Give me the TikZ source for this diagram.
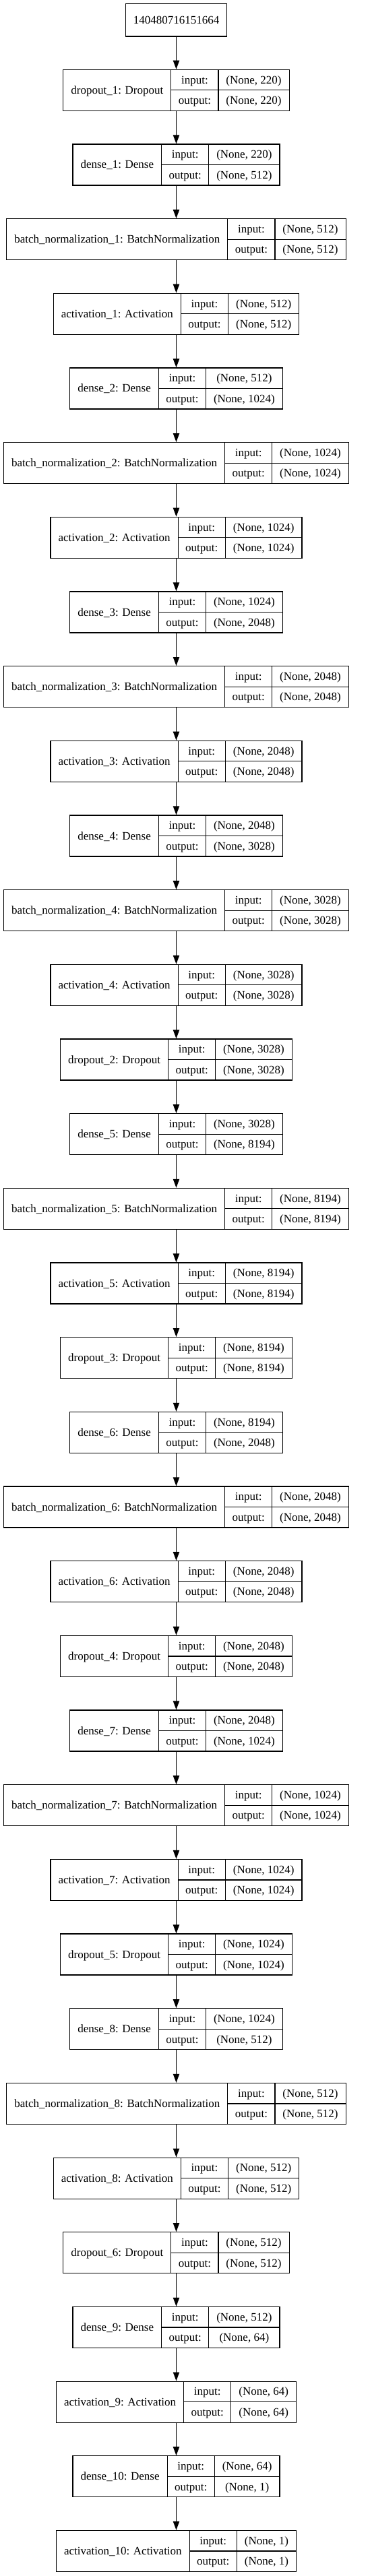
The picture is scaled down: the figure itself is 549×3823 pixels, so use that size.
\documentclass[tikz,border=0pt]{standalone}
\usepackage{fontspec}
\setmainfont{Liberation Serif}
\usetikzlibrary{arrows.meta}
\newlength\LayA \newlength\LayB \newlength\LayC \newlength\LayD
\newcommand\layfont{\fontsize{17bp}{20bp}\selectfont}
\makeatletter
\newcommand\measfont{\fontsize{17bp}{20bp}\pgf@selectfontorig}
\makeatother
\tikzset{
  laybox/.style={draw, rectangle, line width=1.2bp, minimum height=61bp, inner sep=0pt},
  topbox/.style={draw, rectangle, line width=1.2bp, minimum height=48.3bp, minimum width=150.3bp, inner sep=0pt, font=\layfont, text height=11bp, text depth=0pt},
  laytext/.style={font=\layfont, inner sep=0pt, text height=11bp, text depth=0pt},
  divider/.style={line width=1.2bp},
  conn/.style={line width=1.2bp, -{Triangle[length=13bp,width=9.3bp]}}
}
\newcommand\layer[5]{%
  \pgfmathsetmacro\Yc{103.3+110.67*#2+30.5}%
  \settowidth\LayA{\measfont #3}\addtolength\LayA{23bp}%
  \settowidth\LayB{\measfont output:}\addtolength\LayB{22bp}%
  \settowidth\LayC{\measfont #4}\settowidth\LayD{\measfont #5}%
  \ifdim\LayD>\LayC \LayC=\LayD\fi \addtolength\LayC{23bp}%
  \pgfmathsetmacro\Wd{(\LayA+\LayB+\LayC)/1.00375}%
  \pgfmathsetmacro\Xl{261.5-\Wd/2}%
  \pgfmathsetmacro\Xa{\Xl+\LayA/1.00375}%
  \pgfmathsetmacro\Xb{\Xa+\LayB/1.00375}%
  \pgfmathsetmacro\Xr{\Xl+\Wd}%
  \node[laybox, minimum width=\Wd bp] (#1) at (261.5,\Yc) {};
  \draw[divider] (\Xa,\Yc-30.5) -- (\Xa,\Yc+30.5);
  \draw[divider] (\Xb,\Yc-30.5) -- (\Xb,\Yc+30.5);
  \draw[divider] (\Xa,\Yc) -- (\Xr,\Yc);
  \node[laytext] (#1-lbl) at ({(\Xl+\Xa)/2},\Yc) {#3};
  \node[laytext] (#1-ik) at ({(\Xa+\Xb)/2},\Yc-15.25) {input:};
  \node[laytext] (#1-ok) at ({(\Xa+\Xb)/2},\Yc+15.25) {output:};
  \node[laytext] (#1-iv) at ({(\Xb+\Xr)/2},\Yc-15.25) {#4};
  \node[laytext] (#1-ov) at ({(\Xb+\Xr)/2},\Yc+15.25) {#5};
}
\begin{document}
\begin{tikzpicture}[x=1bp,y=-1bp]
\useasboundingbox[fill=white] (0,0) rectangle (549,3823);
\node[topbox] (top) at (261.5,29.85) {140480716151664};
\layer{L0}{0}{dropout\_1: Dropout}{(None, 220)}{(None, 220)}
\layer{L1}{1}{dense\_1: Dense}{(None, 220)}{(None, 512)}
\layer{L2}{2}{batch\_normalization\_1: BatchNormalization}{(None, 512)}{(None, 512)}
\layer{L3}{3}{activation\_1: Activation}{(None, 512)}{(None, 512)}
\layer{L4}{4}{dense\_2: Dense}{(None, 512)}{(None, 1024)}
\layer{L5}{5}{batch\_normalization\_2: BatchNormalization}{(None, 1024)}{(None, 1024)}
\layer{L6}{6}{activation\_2: Activation}{(None, 1024)}{(None, 1024)}
\layer{L7}{7}{dense\_3: Dense}{(None, 1024)}{(None, 2048)}
\layer{L8}{8}{batch\_normalization\_3: BatchNormalization}{(None, 2048)}{(None, 2048)}
\layer{L9}{9}{activation\_3: Activation}{(None, 2048)}{(None, 2048)}
\layer{L10}{10}{dense\_4: Dense}{(None, 2048)}{(None, 3028)}
\layer{L11}{11}{batch\_normalization\_4: BatchNormalization}{(None, 3028)}{(None, 3028)}
\layer{L12}{12}{activation\_4: Activation}{(None, 3028)}{(None, 3028)}
\layer{L13}{13}{dropout\_2: Dropout}{(None, 3028)}{(None, 3028)}
\layer{L14}{14}{dense\_5: Dense}{(None, 3028)}{(None, 8194)}
\layer{L15}{15}{batch\_normalization\_5: BatchNormalization}{(None, 8194)}{(None, 8194)}
\layer{L16}{16}{activation\_5: Activation}{(None, 8194)}{(None, 8194)}
\layer{L17}{17}{dropout\_3: Dropout}{(None, 8194)}{(None, 8194)}
\layer{L18}{18}{dense\_6: Dense}{(None, 8194)}{(None, 2048)}
\layer{L19}{19}{batch\_normalization\_6: BatchNormalization}{(None, 2048)}{(None, 2048)}
\layer{L20}{20}{activation\_6: Activation}{(None, 2048)}{(None, 2048)}
\layer{L21}{21}{dropout\_4: Dropout}{(None, 2048)}{(None, 2048)}
\layer{L22}{22}{dense\_7: Dense}{(None, 2048)}{(None, 1024)}
\layer{L23}{23}{batch\_normalization\_7: BatchNormalization}{(None, 1024)}{(None, 1024)}
\layer{L24}{24}{activation\_7: Activation}{(None, 1024)}{(None, 1024)}
\layer{L25}{25}{dropout\_5: Dropout}{(None, 1024)}{(None, 1024)}
\layer{L26}{26}{dense\_8: Dense}{(None, 1024)}{(None, 512)}
\layer{L27}{27}{batch\_normalization\_8: BatchNormalization}{(None, 512)}{(None, 512)}
\layer{L28}{28}{activation\_8: Activation}{(None, 512)}{(None, 512)}
\layer{L29}{29}{dropout\_6: Dropout}{(None, 512)}{(None, 512)}
\layer{L30}{30}{dense\_9: Dense}{(None, 512)}{(None, 64)}
\layer{L31}{31}{activation\_9: Activation}{(None, 64)}{(None, 64)}
\layer{L32}{32}{dense\_10: Dense}{(None, 64)}{(None, 1)}
\layer{L33}{33}{activation\_10: Activation}{(None, 1)}{(None, 1)}
\draw[conn] (top.south) -- (L0.north);
\foreach \a [evaluate=\a as \b using int(\a+1)] in {0,...,32} {
  \draw[conn] (L\a.south) -- (L\b.north);
}
\end{tikzpicture}
\end{document}
